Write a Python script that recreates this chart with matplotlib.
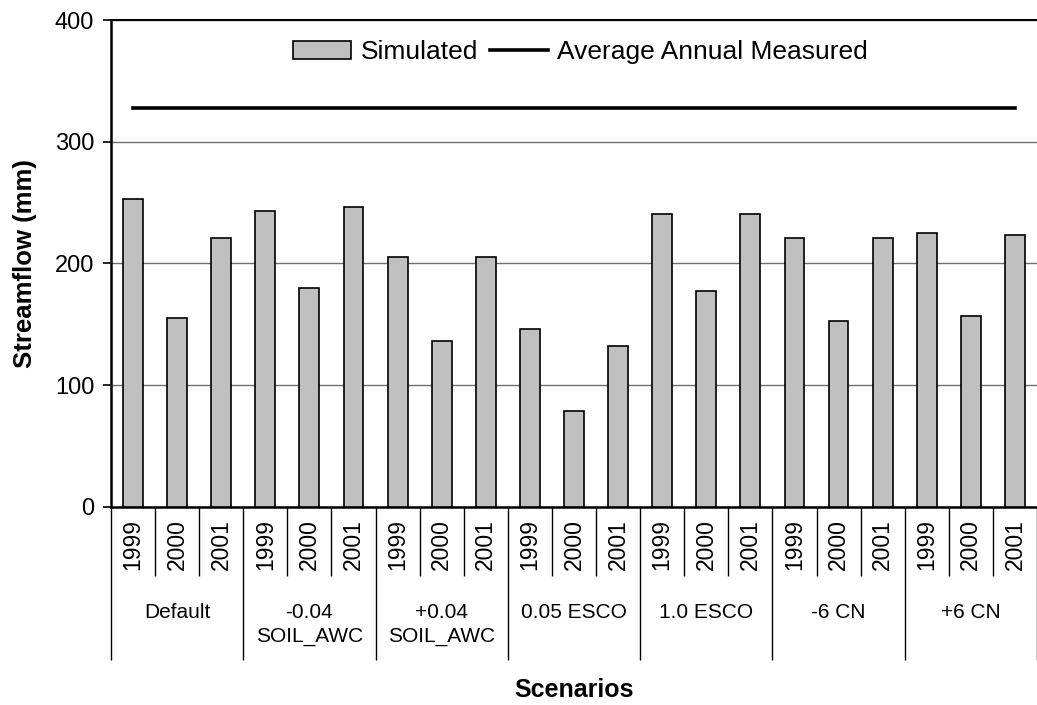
import matplotlib
matplotlib.use("Agg")
import matplotlib.pyplot as plt
import matplotlib.transforms as mtransforms
import numpy as np

# ---- data ----
scenarios = ["Default", "-0.04\nSOIL_AWC", "+0.04\nSOIL_AWC", "0.05 ESCO",
             "1.0 ESCO", "-6 CN", "+6 CN"]
years = ["1999", "2000", "2001"]
simulated = [253, 155, 221,
             243, 180, 246,
             205, 136, 205,
             146, 79, 132,
             241, 177, 241,
             221, 153, 221,
             225, 157, 223]
measured_avg = 328

plt.rcParams['font.family'] = ['Liberation Sans', 'DejaVu Sans']

fig = plt.figure(figsize=(10.37, 7.05), dpi=100)
ax = fig.add_axes([0.107, 0.2809, 0.893, 0.6907])

n = len(simulated)
x = np.arange(n)
bars = ax.bar(x, simulated, width=0.45, color="#c0c0c0", edgecolor="black",
              linewidth=1.2, label="Simulated", zorder=3)
line, = ax.plot(x, [measured_avg] * n, color="black", linewidth=2.6,
                label="Average Annual Measured", zorder=4)

ax.set_xlim(-0.5, n - 0.5)
ax.set_ylim(0, 400)
ax.set_yticks([0, 100, 200, 300, 400])
ax.tick_params(axis='y', labelsize=17, length=6, width=1.2, pad=6, direction='out')
ax.yaxis.grid(True, color="#707070", linewidth=1.0, zorder=0)
ax.set_axisbelow(True)

for s in ["left", "bottom", "top"]:
    ax.spines[s].set_color("black")
ax.spines["left"].set_linewidth(1.8)
ax.spines["bottom"].set_linewidth(1.8)
ax.spines["top"].set_linewidth(1.5)
ax.spines["right"].set_visible(False)

# x ticks: group boundaries (long) and year boundaries (short)
ng = len(scenarios)
ny = len(years)
group_bounds = [g * ny - 0.5 for g in range(ng + 1)]
year_bounds = [g * ny + k - 0.5 for g in range(ng) for k in range(1, ny)]
ax.set_xticks(group_bounds)
ax.set_xticks(year_bounds, minor=True)
ax.set_xticklabels([])
ax.tick_params(axis='x', which='major', length=110, width=1.0, color="black")
ax.tick_params(axis='x', which='minor', length=50, width=1.0, color="black")

trans = mtransforms.blended_transform_factory(ax.transData, ax.transAxes)
for i in range(n):
    ax.text(x[i], -0.078, years[i % ny], rotation=90, ha='center', va='center',
            fontsize=16.5, transform=trans)
for g, name in enumerate(scenarios):
    cx = g * ny + (ny - 1) / 2
    ax.text(cx, -0.198, name, ha='center', va='top', fontsize=15,
            linespacing=1.3, transform=trans)

ax.set_ylabel("Streamflow (mm)", fontsize=18.5, fontweight='bold')
ax.yaxis.set_label_coords(-0.080, 0.5)
fig.text(0.5 * (0.107 + 1.0), 0.021, "Scenarios", ha='center', va='center',
         fontsize=18, fontweight='bold')

ax.legend(handles=[bars, line], loc='center', bbox_to_anchor=(0.507, 0.934),
          ncol=2, frameon=False, fontsize=19, handlelength=2.2,
          handletextpad=0.35, columnspacing=0.45, borderaxespad=0)

fig.savefig("out.png", dpi=100)
